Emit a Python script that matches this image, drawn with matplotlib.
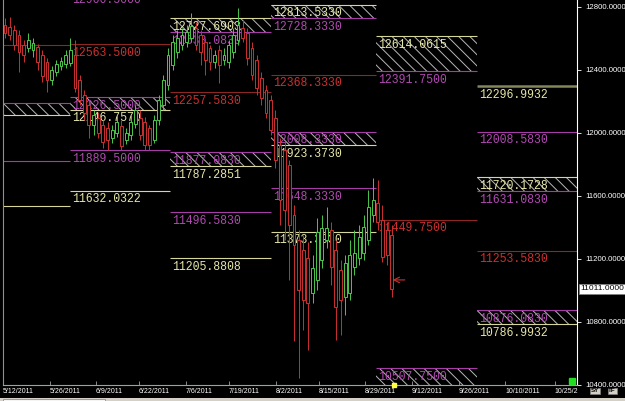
import matplotlib
matplotlib.use("Agg")
import matplotlib.pyplot as plt
from matplotlib import transforms
from matplotlib.patches import Rectangle

# ---- candle data (one bar per trading day, index 0 = 5/12/2011) ----
opens = [12686, 12673, 12654, 12622, 12559, 12540, 12527, 12546, 12495, 12451, 12337, 12387, 12426, 12438, 12445,
         12495, 12337, 12241, 12178, 12051, 12095, 12051, 12032, 11968, 11999, 12045, 11956, 11987, 12057, 12095,
         12070, 12032, 11956, 12083, 12178, 12305, 12432, 12514, 12559, 12578, 12603, 12667, 12622, 12578, 12540,
         12451, 12527, 12464, 12451, 12514, 12591, 12667, 12635, 12540, 12464, 12349, 12273, 12210, 12095, 11924,
         11892, 11797, 11480, 11321, 11257, 11206, 10984, 11067, 11194, 11321, 11384, 11257, 11130, 10959, 10984,
         11149, 11206, 11238, 11321, 11479, 11556, 11448, 11384, 11352]
closes = [12635, 12622, 12559, 12514, 12495, 12591, 12572, 12451, 12362, 12337, 12400, 12438, 12457, 12495, 12527,
          12286, 12210, 12127, 12051, 12114, 11999, 11943, 11956, 12019, 12070, 11918, 11999, 12070, 12146, 11987,
          11924, 11924, 12083, 12210, 12337, 12495, 12578, 12603, 12622, 12641, 12680, 12559, 12514, 12464, 12451,
          12495, 12432, 12495, 12559, 12622, 12686, 12603, 12476, 12368, 12286, 12222, 12127, 12019, 11829, 11575,
          11511, 11416, 11289, 11003, 10940, 10921, 11143, 11372, 11397, 11397, 11149, 10895, 10940, 11175, 11225,
          11238, 11340, 11403, 11530, 11575, 11435, 11213, 11225, 11011]
highs = [12731, 12737, 12686, 12654, 12591, 12635, 12603, 12565, 12527, 12476, 12426, 12464, 12483, 12527, 12603,
         12591, 12368, 12273, 12210, 12146, 12133, 12083, 12070, 12051, 12114, 12083, 12032, 12114, 12178, 12146,
         12102, 12051, 12114, 12241, 12368, 12540, 12622, 12654, 12667, 12686, 12762, 12705, 12654, 12603, 12559,
         12527, 12559, 12540, 12591, 12667, 12794, 12718, 12667, 12578, 12495, 12387, 12305, 12241, 12146, 11968,
         11943, 11829, 11543, 11384, 11352, 11308, 11225, 11460, 11479, 11530, 11435, 11321, 11194, 11225, 11321,
         11384, 11416, 11479, 11638, 11714, 11702, 11543, 11435, 11416]
lows = [12603, 12591, 12527, 12387, 12451, 12514, 12483, 12400, 12324, 12260, 12305, 12362, 12400, 12413, 12426,
        12260, 12178, 12083, 11968, 11987, 11968, 11905, 11892, 11937, 11975, 11892, 11930, 11956, 12032, 11956,
        11892, 11892, 11937, 12051, 12146, 12273, 12400, 12476, 12527, 12546, 12578, 12527, 12432, 12368, 12400,
        12413, 12318, 12432, 12413, 12476, 12559, 12578, 12432, 12337, 12241, 12178, 12095, 11987, 11778, 11416,
        11321, 11067, 10680, 10444, 10749, 10620, 10921, 11003, 11143, 11270, 11035, 10686, 10718, 10844, 10940,
        11098, 11162, 11194, 11289, 11435, 11384, 11181, 11162, 10959]
last_price = 11011.0

# x axis dates (bar positions of each label)
tick_pos = [-0.4, 9.66, 19.53, 28.76, 38.84, 48.07, 58.15, 67.38, 77.25, 87.34, 97.42, 107.3, 118.0]
tick_labels = ['5/12/2011', '5/26/2011', '6/9/2011', '6/22/2011', '7/6/2011', '7/19/2011', '8/2/2011',
               '8/15/2011', '8/29/2011', '9/12/2011', '9/26/2011', '10/10/2011', '10/25/2']

# monthly periods the levels belong to
period_edges = [-5, 13.9, 35.4, 57.1, 79.6, 101.3, 122.75]

# single levels: period, value, kind (r = pivot, m = magenta, y = yellow)
level_col = [0, 0, 0, 1, 1, 1, 1, 2, 2, 2, 3, 3, 3, 4, 5, 5, 5]
level_val = [12560.0, 11822.0, 11538.0, 12900.5, 12563.5, 11889.5, 11632.0322, 12257.583, 11496.583,
             11205.8808, 12368.333, 11648.333, 11373.393, 11449.75, 12296.9932, 12008.583, 11253.583]
level_kind = ['r', 'm', 'y', 'm', 'r', 'm', 'y', 'r', 'm', 'y', 'r', 'm', 'y', 'r', 'y', 'm', 'r']

# zones between two close levels
box_col = [0, 1, 2, 2, 3, 3, 4, 4, 5, 5]
box_top = [12190.0, 12226.5, 12727.6903, 11877.083, 12813.533, 12008.333, 12614.0615, 10507.75, 11720.1728, 10876.083]
box_bot = [12114.0, 12146.757, 12638.083, 11787.2851, 12728.333, 11923.373, 12391.75, 10380.0, 11631.083, 10786.9932]
box_top_kind = ['m', 'm', 'y', 'm', 'y', 'm', 'y', 'm', 'y', 'm']
box_bot_kind = ['y', 'y', 'm', 'y', 'm', 'y', 'm', 'y', 'm', 'y']

line_colors = {'r': '#8e2626', 'm': '#a63ca6', 'y': '#d6d69a'}
text_colors = {'r': '#cc3030', 'm': '#b24ab2', 'y': '#e6e6a8'}
thick_level = 12296.9932

fig = plt.figure(figsize=(6.25, 4.01), dpi=100, facecolor='black')
ax = fig.add_axes([3 / 625, 16 / 401, 574 / 625, 385 / 401], facecolor='black')
ax.set_xlim(-0.43, 122.75)
ax.set_ylim(10400, 12844)

label_tr = transforms.offset_copy(ax.transData, fig=fig, x=2, y=-2.5, units='dots')


def put_level(col, val, kind, label=True, lw=0.8, color=None):
    x0, x1 = period_edges[col], period_edges[col + 1]
    ax.hlines(val, x0, x1, color=color or line_colors[kind], lw=lw, zorder=2)
    if label and col > 0 and val > 10400:
        ax.text(x0, val, f"{val:.4f}", transform=label_tr, color=text_colors[kind],
                family='Liberation Mono', fontsize=8.3, va='top', ha='left', clip_on=True, zorder=2)


plt.rcParams['hatch.linewidth'] = 0.7
for c, top, bot, tk, bk in zip(box_col, box_top, box_bot, box_top_kind, box_bot_kind):
    x0, x1 = period_edges[c], period_edges[c + 1]
    ax.fill_between([x0, x1], bot, top, facecolor='none', edgecolor='#b8b8b8', hatch='\\\\\\', lw=0, zorder=1)
    put_level(c, top, tk)
    put_level(c, bot, bk)

for c, v, k in zip(level_col, level_val, level_kind):
    if v == thick_level:
        put_level(c, v, k, lw=1.8, color='#85855a')
    else:
        put_level(c, v, k)

# candles
for i, (o, h, l, c) in enumerate(zip(opens, highs, lows, closes)):
    col = '#4cc84c' if c >= o else '#cc3030'
    ax.vlines(i, l, min(o, c), color=col, lw=0.7, zorder=3)
    ax.vlines(i, max(o, c), h, color=col, lw=0.7, zorder=3)
    ax.add_patch(Rectangle((i - 0.3, min(o, c)), 0.6, max(abs(c - o), 4), facecolor='black',
                           edgecolor=col, lw=0.7, zorder=4))

# arrow at last bar
ax.annotate('', xy=(82.6, 11067), xytext=(86.4, 11067),
            arrowprops=dict(arrowstyle='->', color='#cc3030', lw=0.8), zorder=5)
ax.plot(83.5, 10400, 's', color='#ffff40', ms=2.5, clip_on=False, zorder=6)
ax.plot(121.6, 10425, 's', color='#22dd22', ms=5, clip_on=False, zorder=6)

# axes styling
ax.spines['top'].set_visible(False)
ax.spines['left'].set_color('#909090')
ax.spines['right'].set_color('white')
ax.spines['bottom'].set_color('#a0a0a0')
ax.yaxis.tick_right()
ax.set_yticks([10400, 10800, 11200, 11600, 12000, 12400, 12800])
ax.set_yticklabels([f"{v:.4f}" for v in ax.get_yticks()], family='Liberation Sans')
ax.tick_params(axis='y', colors='white', labelsize=5.6, length=3, width=0.6, pad=3)
ax.set_xticks(tick_pos)
ax.set_xticklabels(tick_labels, family='Liberation Sans', ha='left')
ax.tick_params(axis='x', colors='#a0a0a0', labelcolor='white', labelsize=5.0, length=3,
               width=0.6, direction='in', pad=2)

# current price box
ax.text(1.006, last_price, f"{last_price:.4f}",
        transform=transforms.blended_transform_factory(ax.transAxes, ax.transData),
        va='center', ha='left', fontsize=6, family='Liberation Sans', color='black',
        bbox=dict(facecolor='white', edgecolor='#808080', pad=1.2, lw=0.5))

# bottom strip and buttons
fig.patches.append(Rectangle((0, 0), 1, 3 / 401, transform=fig.transFigure, facecolor='#d4d0c8', lw=0))
fig.patches.append(Rectangle((3 / 625, 0), 102 / 625, 2.5 / 401, transform=fig.transFigure,
                             facecolor='#f4f4f4', edgecolor='#808080', lw=0.5))
for xpos, txt in [(595, 'SY'), (612, 'TF')]:
    fig.text(xpos / 625, 10 / 401, txt, fontsize=4.5, family='Liberation Sans', weight='bold', color='black',
             ha='center', va='center', bbox=dict(facecolor='#d4d0c8', edgecolor='#808080', pad=0.5, lw=0.5))

fig.savefig('out.png', dpi=100, facecolor='black')
